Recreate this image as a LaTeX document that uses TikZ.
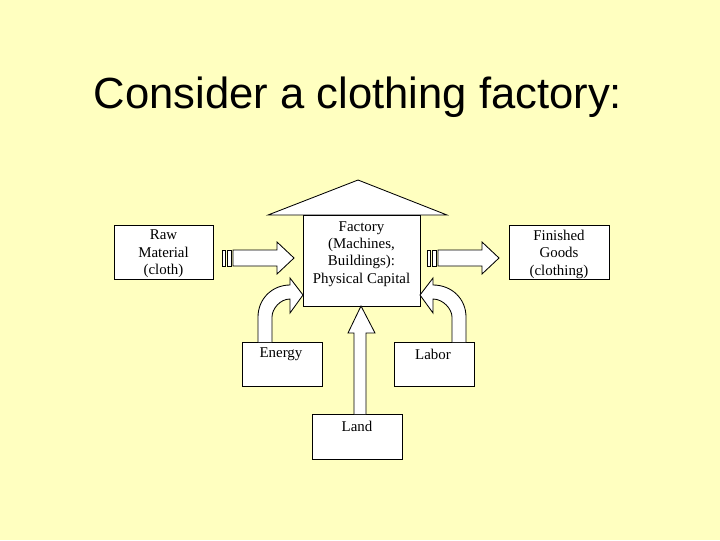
\documentclass[tikz,border=0pt]{standalone}
\usepackage{fontspec}
\setmainfont{Liberation Serif}
\newfontfamily\titlefont{Liberation Sans}
\begin{document}
\begin{tikzpicture}[x=0.025cm,y=-0.025cm,
    box/.style={draw,fill=white,line width=0.6pt},
    lbl/.style={font=\fontsize{10.6}{12.4}\selectfont,align=center},
    arr/.style={draw,fill=white,line width=0.6pt,line join=miter}]
    \fill[fill={rgb,255:red,255;green,255;blue,192}] (0,0) rectangle (720,540);
    \useasboundingbox (0,0) rectangle (720,540);

    % Title
    \node[font=\titlefont\fontsize{31}{36}\selectfont] (title) at (358,97) {Consider a clothing factory:};

    % Boxes
    \draw[box] (114,225) rectangle (213,279);
    \node[lbl] (raw) at (163.5,254) {Raw\\Material\\(cloth)};
    \draw[box] (509,225) rectangle (609,279);
    \node[lbl] (fin) at (559,254) {Finished\\Goods\\(clothing)};
    \draw[arr] (268,215) -- (358,180) -- (447,215) -- cycle;
    \draw[box] (303,215) rectangle (420,306);
    \node[lbl] (fac) at (361.5,254) {Factory\\(Machines,\\Buildings):\\Physical Capital};
    \draw[box] (242,342) rectangle (322,386);
    \node[lbl] (energy) at (281,354) {Energy};
    \draw[box] (394,342) rectangle (474,386);
    \node[lbl] (labor) at (433,354) {Labor};
    \draw[box] (312,414) rectangle (402,459);
    \node[lbl] (land) at (357,426) {Land};

    % Input / output arrows
    \foreach \s in {222,427} {
        \draw[arr] (\s,250) rectangle (\s+3,266);
        \draw[arr] (\s+5,250) rectangle (\s+9,266);
        \draw[arr] (\s+11,250) -- (\s+55,250) -- (\s+55,242) -- (\s+72,258)
            -- (\s+55,274) -- (\s+55,266) -- (\s+11,266) -- cycle;
    }

    % Land arrow
    \draw[arr] (354,414) -- (354,333) -- (348,333) -- (361,306) -- (375,333)
        -- (366,333) -- (366,414);

    % Energy arrow
    \draw[arr] (258,342) -- (258,317) .. controls (258,299) and (272,285) .. (290,285)
        -- (290,278) -- (303,295) -- (290,313) -- (290,299)
        .. controls (280,299) and (272,309) .. (272,317) -- (272,342);

    % Labor arrow
    \draw[arr] (466,342) -- (466,317) .. controls (466,299) and (452,285) .. (433,285)
        -- (433,278) -- (420,295) -- (433,313) -- (433,299)
        .. controls (443,299) and (452,309) .. (452,317) -- (452,342);
\end{tikzpicture}
\end{document}
